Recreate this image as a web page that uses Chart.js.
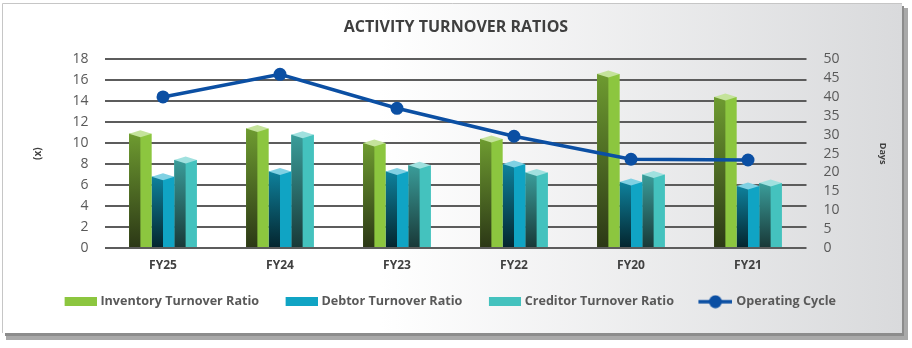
<!DOCTYPE html>
<html>
<head>
<meta charset="utf-8">
<script src="https://cdn.jsdelivr.net/npm/chart.js@4/dist/chart.umd.min.js"></script>
<style>
  html, body { margin: 0; padding: 0; background: #ffffff; }
  #wrap { width: 912px; height: 348px; position: relative; }
</style>
</head>
<body>
<div id="wrap"><canvas id="chart" width="912" height="348"></canvas></div>
<script>
// Activity turnover ratios (x) and operating cycle (days) by fiscal year
const categories = ['FY25', 'FY24', 'FY23', 'FY22', 'FY20', 'FY21'];
const inventoryTurnover = [10.9, 11.4, 10.0, 10.4, 16.6, 14.4];
const debtorTurnover = [6.8, 7.3, 7.3, 8.0, 6.3, 5.9];
const creditorTurnover = [8.4, 10.8, 7.9, 7.2, 7.0, 6.2];
const operatingCycle = [40, 46, 37, 29.6, 23.5, 23.3];

const ratioTicks = [0, 2, 4, 6, 8, 10, 12, 14, 16, 18];
const dayTicks = [0, 5, 10, 15, 20, 25, 30, 35, 40, 45, 50];

// Column shading: flat front face, darker shaded side face, light top cap
const palette = {
  inventory: { face: '#8cc63f', sideTop: '#6e9b30', sideBottom: '#2c3816', cap: '#c4e39b' },
  debtor:    { face: '#10a4c4', sideTop: '#0e819c', sideBottom: '#04262f', cap: '#80d1e3' },
  creditor:  { face: '#44c2be', sideTop: '#3a9d9a', sideBottom: '#193938', cap: '#a0e1df' }
};
const lineColor = '#0b4fa3';
const font = '"Open Sans", sans-serif';

// Legend marks: the visible mark sits at the right end of a wider transparent canvas
const MARK_W = 51;
function swatch(color) {
  const c = document.createElement('canvas');
  c.width = MARK_W; c.height = 9;
  const g = c.getContext('2d');
  g.fillStyle = color;
  g.fillRect(MARK_W - 32, 0, 32, 9);
  return c;
}
function lineMarker(color) {
  const c = document.createElement('canvas');
  c.width = MARK_W; c.height = 14;
  const g = c.getContext('2d');
  const x0 = MARK_W - 34;
  g.strokeStyle = color; g.lineWidth = 3.5;
  g.beginPath(); g.moveTo(x0, 7); g.lineTo(MARK_W, 7); g.stroke();
  g.fillStyle = color;
  g.beginPath(); g.arc(x0 + 17, 7, 6.5, 0, Math.PI * 2); g.fill();
  return c;
}

// Panel background with a soft right/bottom shadow
const panel = {
  id: 'panel',
  beforeDraw(chart) {
    const ctx = chart.ctx;
    ctx.save();
    ctx.fillStyle = '#ffffff';
    ctx.fillRect(0, 0, 912, 348);
    ctx.fillStyle = '#a9a9a9';
    ctx.fillRect(6, 8, 902, 332);
    ctx.fillStyle = '#8c8c8c';
    ctx.fillRect(5, 6, 899, 330);
    const g = ctx.createLinearGradient(380, 0, 902, 0);
    g.addColorStop(0, '#ffffff');
    g.addColorStop(1, '#d9dadc');
    ctx.fillStyle = g;
    ctx.fillRect(2, 3, 900, 330);
    ctx.strokeStyle = '#c6c6c6';
    ctx.lineWidth = 1;
    ctx.beginPath();
    ctx.moveTo(2.5, 333); ctx.lineTo(2.5, 3.5); ctx.lineTo(902, 3.5);
    ctx.stroke();
    ctx.restore();
  }
};

// Nudge the legend row a little left of centre
const legendShift = {
  id: 'legendShift',
  afterLayout(chart) {
    const lg = chart.legend;
    if (lg) { lg.left -= 14; lg.right -= 14; }
  }
};

// Side face and top cap for each column, drawn right after its dataset
const columns3d = {
  id: 'columns3d',
  afterDatasetDraw(chart, args) {
    const meta = args.meta;
    if (meta.type !== 'bar') return;
    const p = chart.data.datasets[args.index].shade;
    const ctx = chart.ctx;
    const d = 3.5;
    ctx.save();
    meta.data.forEach(el => {
      const { x, y, base, width } = el.getProps(['x', 'y', 'base', 'width'], true);
      const left = x - width / 2;
      const g = ctx.createLinearGradient(0, y, 0, base);
      g.addColorStop(0, p.sideTop);
      g.addColorStop(1, p.sideBottom);
      ctx.fillStyle = g;
      ctx.fillRect(left, y, width / 2, base - y);
      ctx.fillStyle = p.cap;
      ctx.beginPath();
      ctx.moveTo(left, y);
      ctx.lineTo(x, y - d);
      ctx.lineTo(left + width, y);
      ctx.lineTo(x, y + d);
      ctx.closePath();
      ctx.fill();
    });
    ctx.restore();
  }
};

const barDataset = (label, data, p) => ({
  type: 'bar', label, data, yAxisID: 'y', order: 1,
  backgroundColor: p.face, borderWidth: 0, shade: p,
  categoryPercentage: 0.58, barPercentage: 1.0
});

const legendMarks = [swatch(palette.inventory.face), swatch(palette.debtor.face),
                     swatch(palette.creditor.face), lineMarker(lineColor)];

new Chart(document.getElementById('chart'), {
  data: {
    labels: categories,
    datasets: [
      barDataset('Inventory Turnover Ratio', inventoryTurnover, palette.inventory),
      barDataset('Debtor Turnover Ratio', debtorTurnover, palette.debtor),
      barDataset('Creditor Turnover Ratio', creditorTurnover, palette.creditor),
      {
        type: 'line', label: 'Operating Cycle', data: operatingCycle, yAxisID: 'y1', order: 0,
        borderColor: lineColor, backgroundColor: lineColor, borderWidth: 3.5,
        pointRadius: 6.5, pointHoverRadius: 6.5, pointBackgroundColor: lineColor,
        pointBorderWidth: 0, tension: 0
      }
    ]
  },
  options: {
    responsive: false,
    animation: false,
    layout: { padding: { left: 20, right: 20, top: 0, bottom: 30 } },
    plugins: {
      tooltip: { enabled: false },
      title: {
        display: true,
        text: 'ACTIVITY TURNOVER RATIOS',
        color: '#3f3f3f',
        font: { family: font, size: 16, weight: 'bold' },
        padding: { top: 18, bottom: 22 }
      },
      legend: {
        position: 'bottom',
        labels: {
          color: '#595959',
          font: { family: font, size: 12.6, weight: 'bold' },
          usePointStyle: true,
          pointStyleWidth: 46,
          boxHeight: 9,
          padding: 10,
          generateLabels(chart) {
            return chart.data.datasets.map((ds, i) => ({
              text: ds.label,
              pointStyle: legendMarks[i],
              fontColor: '#595959',
              hidden: false,
              datasetIndex: i,
              lineWidth: 0
            }));
          }
        }
      }
    },
    scales: {
      x: {
        afterFit: s => { s.height = 37.4; },
        grid: { display: false, drawTicks: false },
        border: { display: false },
        ticks: {
          color: '#404040', padding: 10,
          font: { family: font, size: 12, weight: 'bold' }
        }
      },
      y: {
        position: 'left',
        min: 0, max: 18,
        afterBuildTicks: s => { s.ticks = ratioTicks.map(v => ({ value: v })); },
        afterFit: s => { s.width = 84.5; },
        grid: { color: '#5c5c5c', lineWidth: 2, drawTicks: false },
        border: { display: false },
        ticks: {
          color: '#595959', padding: 16, autoSkip: false,
          font: { family: font, size: 14 }
        },
        title: {
          display: true, text: '(x)', color: '#404040',
          font: { family: font, size: 10, weight: 'bold' },
          padding: { top: 12, bottom: 0 }
        }
      },
      y1: {
        position: 'right',
        min: 0, max: 50,
        afterBuildTicks: s => { s.ticks = dayTicks.map(v => ({ value: v })); },
        afterFit: s => { s.width = 85.5; },
        grid: { display: false, drawTicks: false },
        border: { display: false },
        ticks: {
          color: '#595959', padding: 17, autoSkip: false,
          font: { family: font, size: 14 }
        },
        title: {
          display: true, text: 'Days', color: '#404040',
          font: { family: font, size: 9, weight: 'bold' },
          padding: { top: 4, bottom: 0 }
        }
      }
    }
  },
  plugins: [panel, legendShift, columns3d]
});
</script>
</body>
</html>
